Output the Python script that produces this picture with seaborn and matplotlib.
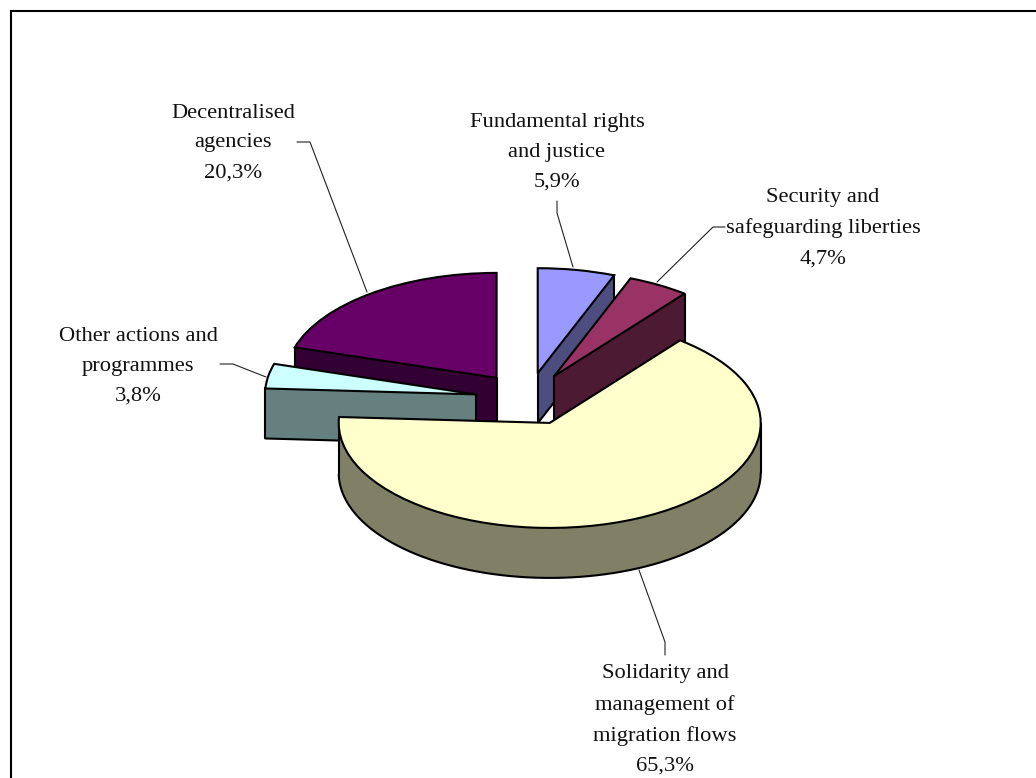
import numpy as np
import matplotlib
matplotlib.use("Agg")
import matplotlib.pyplot as plt
import seaborn as sns

# chart values (percent of total)
categories = [
    "Fundamental rights\nand justice",
    "Security and\nsafeguarding liberties",
    "Solidarity and\nmanagement of\nmigration flows",
    "Other actions and\nprogrammes",
    "Decentralised\nagencies",
]
shares = [5.9, 4.7, 65.3, 3.8, 20.3]
top_colors = ["#9999ff", "#993366", "#ffffcc", "#ccffff", "#660066"]

# layout, in pixels of the 1036x778 picture
W, H = 1036, 778
FRAME = 11
CX, CY = 528, 399        # centre the slices explode from
RX, RY = 211, 105        # radii of the tilted pie
DEPTH_PX = 50
EXPLODE = 0.25
draw_order = [1, 2, 4, 3, 0]  # back to front, same order as categories

label_xy = [(557, 152.5), (823, 228), (665, 720), (138, 366.5), (233, 143)]
leaders = [
    [(557, 201), (557, 213), (573, 267)],
    [(725, 227), (713, 227), (657, 282)],
    [(639, 570), (665, 642), (665, 655)],
    [(220, 364), (233, 364), (266, 377)],
    [(297, 142), (310, 142), (367, 292)],
]

sns.set_theme(style="white")
plt.rcParams["font.family"] = ["Liberation Serif", "DejaVu Sans"]

fig = plt.figure(figsize=(W / 100, H / 100), dpi=100, facecolor="white")
ax = fig.add_axes([FRAME / W, 0, 1 - FRAME / W, 1 - FRAME / H])

palette = sns.color_palette(top_colors)
side_colors = [tuple(c * 0.5 for c in col) for col in palette]

depth = DEPTH_PX / RY
explode = [EXPLODE] * len(shares)


def draw_layer(offset, colors, **wedgeprops):
    wedges, _ = ax.pie(shares, explode=explode, colors=colors, startangle=90,
                       counterclock=False, center=(0, -offset), radius=1,
                       wedgeprops=wedgeprops)
    return wedges


def edge_line(xs, ys, z):
    ax.plot(xs, ys, color="black", lw=1.5, zorder=z + 0.4, solid_capstyle="round")


# side walls: pile up darker pies from the bottom to the top
for offset in np.linspace(depth, 0, DEPTH_PX + 1):
    for w, z in zip(draw_layer(offset, side_colors, linewidth=0, antialiased=False), draw_order):
        w.set_zorder(z + 0.1)

top_wedges = draw_layer(0, palette, linewidth=1.5, edgecolor="black")
for w, z in zip(top_wedges, draw_order):
    w.set_zorder(z + 0.6)
    cx, cy = w.center
    cos1, cos2 = np.cos(np.radians(w.theta1)), np.cos(np.radians(w.theta2))
    sin1, sin2 = np.sin(np.radians(w.theta1)), np.sin(np.radians(w.theta2))
    x1, y1 = cx + w.r * cos1, cy + w.r * sin1
    x2, y2 = cx + w.r * cos2, cy + w.r * sin2

    # only walls that face the viewer get outlined
    wall1 = cos1 > 1e-6
    wall2 = cos2 < -1e-6
    if wall1:
        edge_line([cx, x1], [cy - depth, y1 - depth], z)
    if wall2:
        edge_line([cx, x2], [cy - depth, y2 - depth], z)
    if wall1 or wall2:
        edge_line([cx, cx], [cy, cy - depth], z)
    if wall1 or sin1 < -1e-6:
        edge_line([x1, x1], [y1, y1 - depth], z)
    if wall2 or sin2 < -1e-6:
        edge_line([x2, x2], [y2, y2 - depth], z)

    # lower rim of the round wall and its widest points
    angles = np.radians(np.linspace(w.theta1, w.theta2, 300))
    front = angles[np.sin(angles) < 0]
    if len(front):
        edge_line(cx + w.r * np.cos(front), cy - depth + w.r * np.sin(front), z)
    for a in (0, -180):
        if w.theta1 < a < w.theta2:
            xa = cx + w.r * np.cos(np.radians(a))
            edge_line([xa, xa], [cy, cy - depth], z)

ax.set_aspect("auto")
ax.set_xlim((FRAME - CX) / RX, (W - CX) / RX)
ax.set_ylim((CY - H) / RY, (CY - FRAME) / RY)

# only the top and left sides of the frame are in the picture
ax.set_frame_on(True)
sns.despine(ax=ax, top=False, left=False, right=True, bottom=True)
for side in ("top", "left"):
    ax.spines[side].set_color("black")
    ax.spines[side].set_linewidth(1.5)

for name, share, (x, y), path in zip(categories, shares, label_xy, leaders):
    text = name + "\n" + f"{share:.1f}%".replace(".", ",")
    fig.text(x / W, 1 - y / H, text, ha="center", va="center", ma="center",
             fontsize=16.2, linespacing=1.78, color="#111111")
    fig.add_artist(plt.Line2D([p[0] / W for p in path], [1 - p[1] / H for p in path],
                              color="#222222", lw=0.8))

fig.savefig("out.png", dpi=100)
